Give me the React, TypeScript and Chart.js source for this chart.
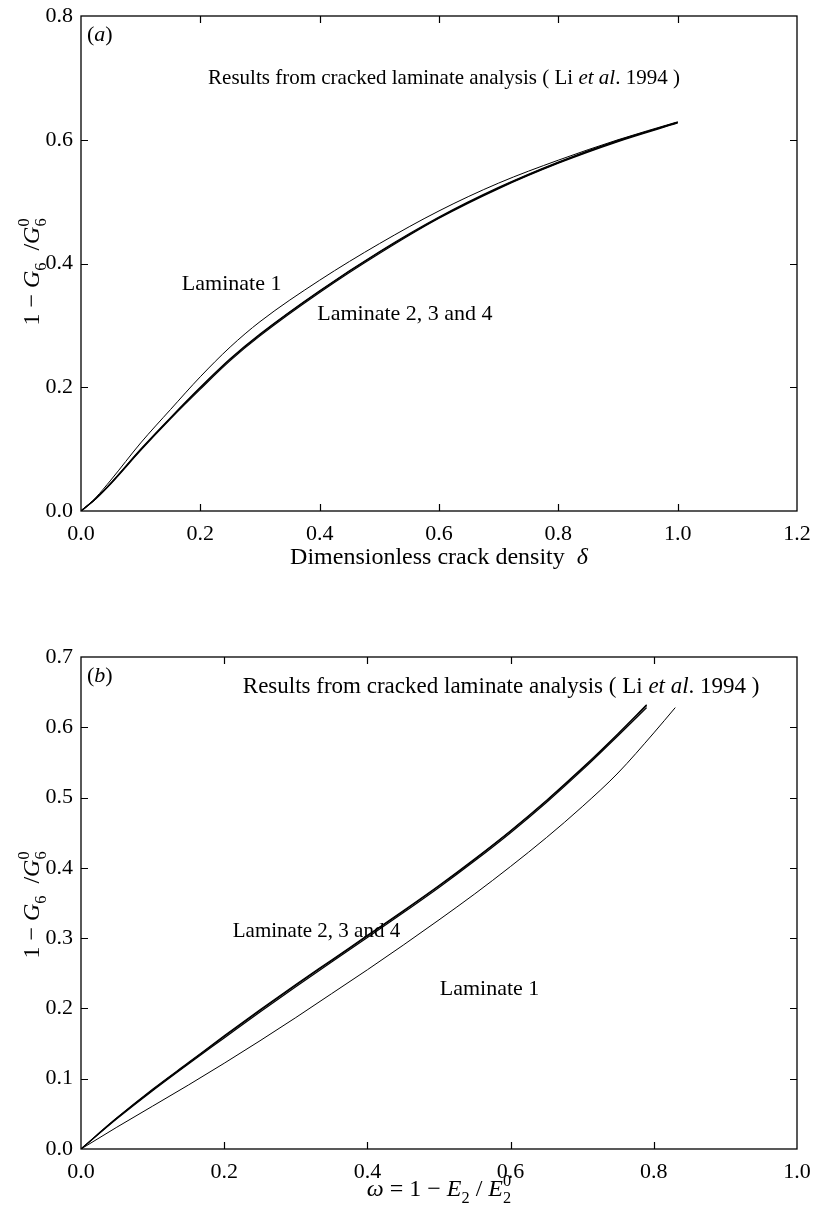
import React, { useEffect, useRef } from "react";
import { Chart, registerables } from "chart.js";

Chart.register(...registerables);

const SERIF = "'Liberation Serif', 'Times New Roman', serif";
const FONT_SIZE = 22;
const TITLE_SIZE = 24;

// Panel (a): shear modulus reduction vs dimensionless crack density
const deltaA = [0, 0.025, 0.05, 0.1, 0.15, 0.2, 0.25, 0.3, 0.4, 0.5, 0.6, 0.7, 0.8, 0.9, 1.0];
const lam1A = [0, 0.022, 0.05, 0.11, 0.164, 0.217, 0.265, 0.306, 0.373, 0.432, 0.485, 0.53, 0.567, 0.6, 0.629];
const lam2A = [0, 0.02, 0.045, 0.099, 0.15, 0.199, 0.245, 0.285, 0.355, 0.418, 0.474, 0.522, 0.563, 0.598, 0.628];
const lam3A = [0, 0.02, 0.044, 0.098, 0.149, 0.197, 0.243, 0.283, 0.353, 0.416, 0.473, 0.521, 0.562, 0.597, 0.627];
const lam4A = [0, 0.02, 0.045, 0.1, 0.151, 0.2, 0.246, 0.286, 0.356, 0.419, 0.475, 0.523, 0.564, 0.599, 0.628];
const xTicksA = [0, 0.2, 0.4, 0.6, 0.8, 1.0, 1.2];
const yTicksA = [0, 0.2, 0.4, 0.6, 0.8];

// Panel (b): shear modulus reduction vs transverse stiffness loss
const omegaB = [0, 0.05, 0.1, 0.15, 0.2, 0.25, 0.3, 0.35, 0.4, 0.45, 0.5, 0.55, 0.6, 0.65, 0.7, 0.75, 0.79];
const lam2B = [0, 0.044, 0.084, 0.122, 0.16, 0.197, 0.233, 0.268, 0.303, 0.338, 0.374, 0.412, 0.452, 0.495, 0.541, 0.59, 0.631];
const lam3B = [0, 0.043, 0.083, 0.121, 0.158, 0.195, 0.231, 0.266, 0.301, 0.336, 0.372, 0.41, 0.45, 0.493, 0.539, 0.588, 0.628];
const lam4B = [0, 0.044, 0.085, 0.123, 0.161, 0.198, 0.234, 0.269, 0.304, 0.339, 0.375, 0.413, 0.453, 0.496, 0.542, 0.591, 0.632];
const omegaLam1B = [0, 0.05, 0.1, 0.15, 0.2, 0.25, 0.3, 0.35, 0.4, 0.45, 0.5, 0.55, 0.6, 0.65, 0.7, 0.75, 0.8, 0.83];
const lam1B = [0, 0.031, 0.061, 0.091, 0.122, 0.154, 0.187, 0.221, 0.255, 0.29, 0.326, 0.363, 0.402, 0.443, 0.487, 0.535, 0.592, 0.628];
const xTicksB = [0, 0.2, 0.4, 0.6, 0.8, 1.0];
const yTicksB = [0, 0.1, 0.2, 0.3, 0.4, 0.5, 0.6, 0.7];

type Seg = { t: string; it?: boolean; sub?: string; sup?: string };

const yTitle: Seg[] = [{ t: "1 − " }, { t: "G", it: true, sub: "6" }, { t: "  /" }, { t: "G", it: true, sub: "6", sup: "0" }];
const xTitleA: Seg[] = [{ t: "Dimensionless crack density  " }, { t: "δ", it: true }];
const xTitleB: Seg[] = [{ t: "ω", it: true }, { t: " = 1 − " }, { t: "E", it: true, sub: "2" }, { t: " / " }, { t: "E", it: true, sub: "2", sup: "0" }];
const sourceNote: Seg[] = [{ t: "Results from cracked laminate analysis ( Li " }, { t: "et al", it: true }, { t: ". 1994 )" }];

const fontStr = (size: number, italic?: boolean) => `${italic ? "italic " : ""}${size}px ${SERIF}`;

function segWidth(ctx: CanvasRenderingContext2D, s: Seg, size: number) {
  ctx.font = fontStr(size, s.it);
  const w = ctx.measureText(s.t).width;
  ctx.font = fontStr(size * 0.68);
  const a = s.sub ? ctx.measureText(s.sub).width : 0;
  const b = s.sup ? ctx.measureText(s.sup).width : 0;
  return w + Math.max(a, b);
}

function drawRich(ctx: CanvasRenderingContext2D, segs: Seg[], x: number, y: number, size: number, align: "left" | "center") {
  const total = segs.reduce((acc, s) => acc + segWidth(ctx, s, size), 0);
  let cx = align === "center" ? x - total / 2 : x;
  ctx.textAlign = "left";
  ctx.textBaseline = "alphabetic";
  ctx.fillStyle = "#000";
  for (const s of segs) {
    ctx.font = fontStr(size, s.it);
    ctx.fillText(s.t, cx, y);
    const w = ctx.measureText(s.t).width;
    ctx.font = fontStr(size * 0.68);
    if (s.sub) ctx.fillText(s.sub, cx + w, y + size * 0.28);
    if (s.sup) ctx.fillText(s.sup, cx + w, y - size * 0.42);
    cx += segWidth(ctx, s, size);
  }
}

type Note = { segs: Seg[]; x: number; y: number; size?: number };

function decorations(opts: { xTitle: Seg[]; xTitleY: number; yTitleY: number; notes: Note[]; panel: Seg[]; xTicks: number[]; yTicks: number[] }) {
  return {
    id: "decorations",
    afterDraw(chart: Chart) {
      const { ctx, chartArea: a } = chart;
      const xs = chart.scales.x;
      const ys = chart.scales.y;
      const tl = 7;
      ctx.save();
      ctx.strokeStyle = "#000";
      ctx.lineWidth = 1.3;
      ctx.strokeRect(a.left, a.top, a.right - a.left, a.bottom - a.top);
      ctx.lineWidth = 1.2;
      ctx.beginPath();
      for (const v of opts.xTicks) {
        const px = Math.round(xs.getPixelForValue(v)) + 0.5;
        if (px <= a.left + 1 || px >= a.right - 1) continue;
        ctx.moveTo(px, a.bottom);
        ctx.lineTo(px, a.bottom - tl);
        ctx.moveTo(px, a.top);
        ctx.lineTo(px, a.top + tl);
      }
      for (const v of opts.yTicks) {
        const py = Math.round(ys.getPixelForValue(v)) + 0.5;
        if (py <= a.top + 1 || py >= a.bottom - 1) continue;
        ctx.moveTo(a.left, py);
        ctx.lineTo(a.left + tl, py);
        ctx.moveTo(a.right, py);
        ctx.lineTo(a.right - tl, py);
      }
      ctx.stroke();

      // axis titles
      drawRich(ctx, opts.xTitle, (a.left + a.right) / 2, opts.xTitleY, TITLE_SIZE, "center");
      ctx.save();
      ctx.translate(39, opts.yTitleY);
      ctx.rotate(-Math.PI / 2);
      drawRich(ctx, yTitle, 0, 0, TITLE_SIZE, "center");
      ctx.restore();

      // panel letter and notes
      drawRich(ctx, opts.panel, a.left + 6, a.top + 25, FONT_SIZE, "left");
      for (const n of opts.notes) {
        drawRich(ctx, n.segs, xs.getPixelForValue(n.x), ys.getPixelForValue(n.y), n.size ?? FONT_SIZE, "left");
      }
      ctx.restore();
    },
  };
}

function line(xv: number[], yv: number[], width: number) {
  return {
    data: xv.map((x, i) => ({ x, y: yv[i] })),
    borderColor: "#000",
    borderWidth: width,
    pointRadius: 0,
    fill: false,
    cubicInterpolationMode: "monotone" as const,
  };
}

function axis(min: number, max: number, step: number, size: number, isX: boolean) {
  return {
    type: "linear" as const,
    min,
    max,
    afterFit: (s: any) => {
      if (isX) {
        s.height = size;
        s.paddingLeft = 0;
        s.paddingRight = 0;
      } else {
        s.width = size;
        s.paddingTop = 0;
        s.paddingBottom = 0;
      }
    },
    grid: { display: false, drawTicks: false },
    border: { display: false },
    ticks: {
      stepSize: step,
      padding: isX ? 10 : 8,
      color: "#000",
      autoSkip: false,
      maxRotation: 0,
      font: { family: SERIF, size: FONT_SIZE },
      callback: (v: any) => Number(v).toFixed(1),
    },
  };
}

function configA(): any {
  return {
    type: "line",
    data: {
      datasets: [line(deltaA, lam1A, 1), line(deltaA, lam2A, 1.2), line(deltaA, lam3A, 1.2), line(deltaA, lam4A, 1.2)],
    },
    options: {
      animation: false,
      responsive: true,
      maintainAspectRatio: false,
      layout: { padding: { left: 0, top: 16, right: 17, bottom: 0 } },
      plugins: { legend: { display: false }, tooltip: { enabled: false } },
      scales: { x: axis(0, 1.2, 0.2, 79, true), y: axis(0, 0.8, 0.2, 81, false) },
    },
    plugins: [
      decorations({
        xTitle: xTitleA,
        xTitleY: 564,
        yTitleY: 272,
        panel: [{ t: "(" }, { t: "a", it: true }, { t: ")" }],
        xTicks: xTicksA,
        yTicks: yTicksA,
        notes: [
          { segs: sourceNote, x: 0.213, y: 0.69, size: 21 },
          { segs: [{ t: "Laminate 1" }], x: 0.169, y: 0.357 },
          { segs: [{ t: "Laminate 2, 3 and 4" }], x: 0.396, y: 0.309 },
        ],
      }),
    ],
  };
}

function configB(): any {
  return {
    type: "line",
    data: {
      datasets: [line(omegaLam1B, lam1B, 1), line(omegaB, lam2B, 1.2), line(omegaB, lam3B, 1.2), line(omegaB, lam4B, 1.2)],
    },
    options: {
      animation: false,
      responsive: true,
      maintainAspectRatio: false,
      layout: { padding: { left: 0, top: 67, right: 17, bottom: 0 } },
      plugins: { legend: { display: false }, tooltip: { enabled: false } },
      scales: { x: axis(0, 1.0, 0.2, 67, true), y: axis(0, 0.7, 0.1, 81, false) },
    },
    plugins: [
      decorations({
        xTitle: xTitleB,
        xTitleY: 606,
        yTitleY: 315,
        panel: [{ t: "(" }, { t: "b", it: true }, { t: ")" }],
        xTicks: xTicksB,
        yTicks: yTicksB,
        notes: [
          { segs: sourceNote, x: 0.226, y: 0.649, size: 23 },
          { segs: [{ t: "Laminate 2, 3 and 4" }], x: 0.212, y: 0.302, size: 21 },
          { segs: [{ t: "Laminate 1" }], x: 0.501, y: 0.219 },
        ],
      }),
    ],
  };
}

export default function App() {
  const refA = useRef<HTMLCanvasElement>(null);
  const refB = useRef<HTMLCanvasElement>(null);

  useEffect(() => {
    const a = new Chart(refA.current!, configA());
    const b = new Chart(refB.current!, configB());
    return () => {
      a.destroy();
      b.destroy();
    };
  }, []);

  return (
    <div style={{ position: "absolute", left: 0, top: 0, width: 814, height: 1216, background: "#fff" }}>
      <div style={{ position: "absolute", left: 0, top: 0, width: 814, height: 590 }}>
        <canvas ref={refA} />
      </div>
      <div style={{ position: "absolute", left: 0, top: 590, width: 814, height: 626 }}>
        <canvas ref={refB} />
      </div>
    </div>
  );
}
